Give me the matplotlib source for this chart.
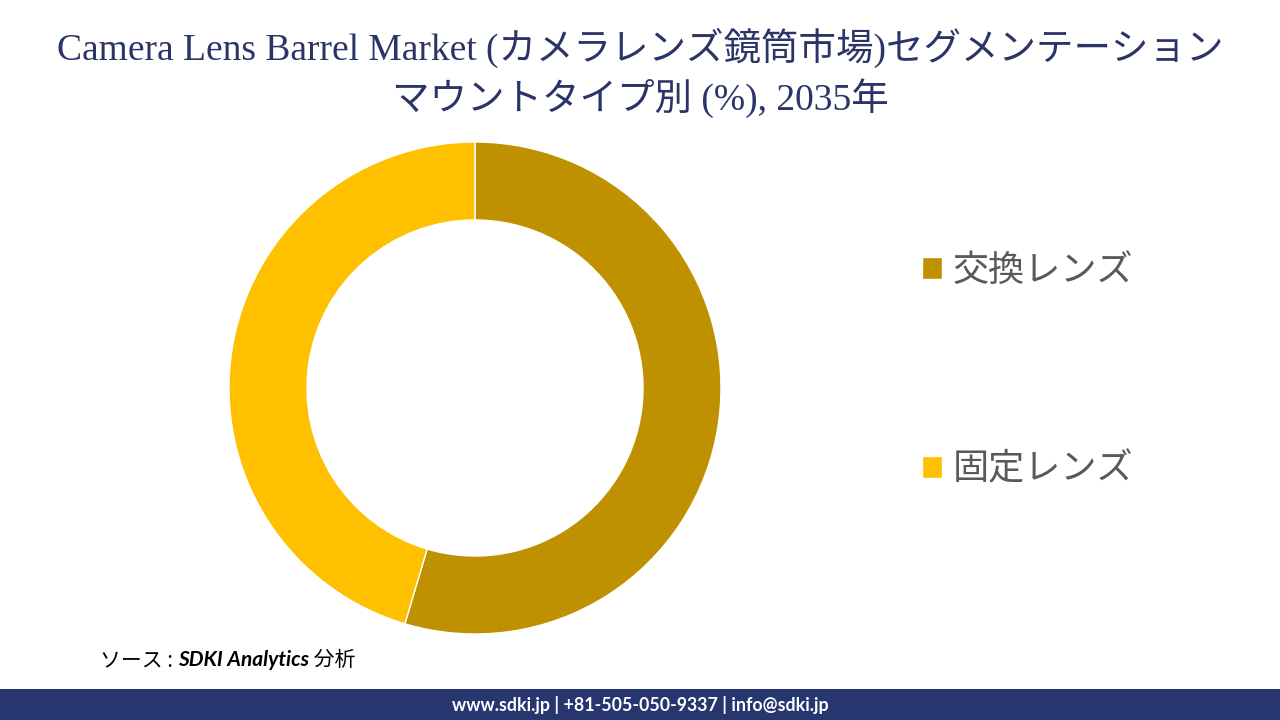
import matplotlib.pyplot as plt

# Data
segments = ['交換レンズ', '固定レンズ']
shares = [54.6, 45.4]
colors = ['#BF9000', '#FFC000']

title_text = 'Camera Lens Barrel Market (カメラレンズ鏡筒市場)セグメンテーション\nマウントタイプ別 (%), 2035年'
source_parts = ['ソース : ', 'SDKI Analytics', ' 分析']
footer_text = 'www.sdki.jp | +81-505-050-9337 | info@sdki.jp'

fig = plt.figure(figsize=(12.8, 7.2), dpi=100)
fig.patch.set_facecolor('white')

# Donut, centre (475, 388) px, radius 246 px
cx, cy, r = 475, 388, 246
ax = fig.add_axes([(cx - r) / 1280, (720 - cy - r) / 720, 2 * r / 1280, 2 * r / 720])
wedges, _ = ax.pie(shares, colors=colors, startangle=90, counterclock=False,
                   radius=1.0, wedgeprops=dict(width=0.317, edgecolor='white', linewidth=1))
ax.set_xlim(-1, 1)
ax.set_ylim(-1, 1)
ax.set_aspect('equal')
ax.axis('off')

leg = fig.legend(wedges, segments, loc='upper left', bbox_to_anchor=(922 / 1280, 1 - 253 / 720),
                 frameon=False, labelspacing=4.5, handlelength=0.56, handleheight=0.56,
                 handletextpad=0.3, borderpad=0, borderaxespad=0,
                 prop={'family': ['Noto Sans CJK JP'], 'size': 26})
for t in leg.get_texts():
    t.set_color('#595959')

# Title
fig.text(0.5, 1 - 73 / 720, title_text, ha='center', va='center', fontsize=27,
         color='#2B3467', family=['Liberation Serif', 'Noto Sans CJK JP'], linespacing=1.3)

# Source note, built in pieces so the Latin part is bold italic
renderer = fig.canvas.get_renderer()
x = 100 / 1280
styles = [dict(family=['Noto Sans CJK JP'], weight='normal'),
          dict(family=['Lato'], weight='bold', style='italic'),
          dict(family=['Noto Sans CJK JP'], weight='normal')]
for part, st in zip(source_parts, styles):
    t = fig.text(x, 1 - 660 / 720, part, ha='left', va='center', fontsize=15, color='black', **st)
    x += t.get_window_extent(renderer).width / 1280

# Footer bar
bar = fig.add_axes([0, 0, 1, 31 / 720])
bar.set_facecolor('#283670')
bar.set_xticks([])
bar.set_yticks([])
for s in bar.spines.values():
    s.set_visible(False)
bar.text(0.5, 0.5, footer_text, ha='center', va='center', color='white', fontsize=12.8,
         weight='bold', family=['Lato'], transform=bar.transAxes)

fig.savefig('out.png', dpi=100)
